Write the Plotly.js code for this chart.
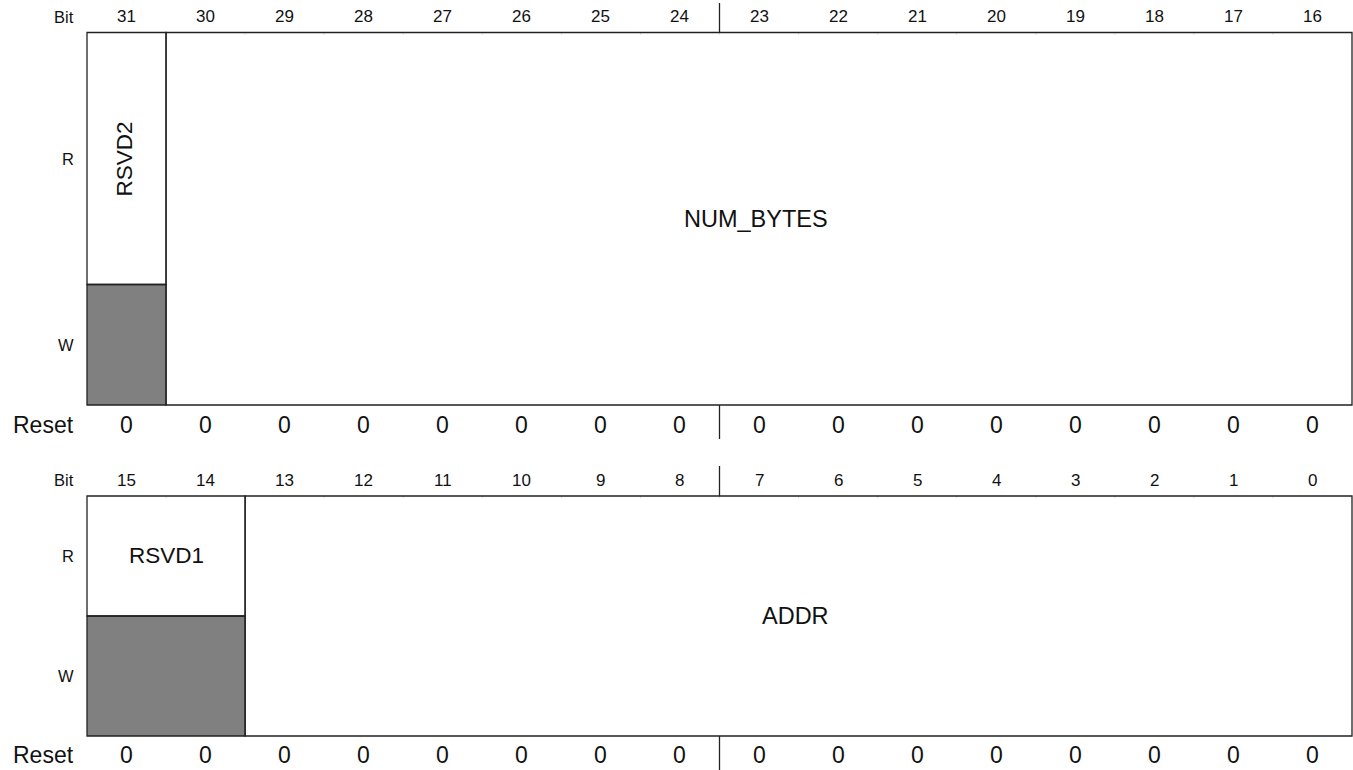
<!DOCTYPE html>
<html>
<head>
<meta charset="utf-8">
<script src="https://cdn.plot.ly/plotly-3.0.1.min.js"></script>
<style>
  html, body { margin: 0; padding: 0; background: #fff; }
  #chart { width: 1353px; height: 770px; }
</style>
</head>
<body>
<div id="chart"></div>
<script>
// ---- Data ----
const bitsHigh = [31, 30, 29, 28, 27, 26, 25, 24, 23, 22, 21, 20, 19, 18, 17, 16];
const bitsLow = [15, 14, 13, 12, 11, 10, 9, 8, 7, 6, 5, 4, 3, 2, 1, 0];
const resetHigh = [0, 0, 0, 0, 0, 0, 0, 0, 0, 0, 0, 0, 0, 0, 0, 0];
const resetLow = [0, 0, 0, 0, 0, 0, 0, 0, 0, 0, 0, 0, 0, 0, 0, 0];

const fieldNamesHigh = ['RSVD2', 'NUM_BYTES'];
const fieldMsbHigh = [31, 30];
const fieldLsbHigh = [31, 16];
const fieldReservedHigh = [true, false];

const fieldNamesLow = ['RSVD1', 'ADDR'];
const fieldMsbLow = [15, 13];
const fieldLsbLow = [14, 0];
const fieldReservedLow = [true, false];

const rowLabels = ['Bit', 'R', 'W', 'Reset'];

// ---- Layout geometry (y in pixel-like units, reversed axis) ----
const W = 1353, H = 770;
const cellPx = 1265 / 16;
const xLeftPx = 87;
const x0 = -xLeftPx / cellPx;
const x1 = x0 + W / cellPx;
const labelX = (76 - xLeftPx) / cellPx;

const FONT = 'Liberation Sans, Arial, Helvetica, sans-serif';
const LINE = '#222';
const GRAY = '#808080';

const registers = [
  { bits: bitsHigh, reset: resetHigh, names: fieldNamesHigh, msb: fieldMsbHigh, lsb: fieldLsbHigh, reserved: fieldReservedHigh,
    bitY: 16.5, top: 32.5, split: 284.5, bottom: 405, resetY: 424.5, divTop: [3, 32.5], divBot: [405, 439] },
  { bits: bitsLow, reset: resetLow, names: fieldNamesLow, msb: fieldMsbLow, lsb: fieldLsbLow, reserved: fieldReservedLow,
    bitY: 480, top: 496, split: 616, bottom: 736, resetY: 755, divTop: [466, 496], divBot: [736, 770] }
];

const shapes = [];
const annotations = [];

function ann(x, y, text, size, opts) {
  annotations.push(Object.assign({
    x: x, y: y, xref: 'x', yref: 'y', text: text, showarrow: false,
    xanchor: 'center', yanchor: 'middle',
    font: { family: FONT, size: size, color: '#111' }
  }, opts || {}));
}

registers.forEach(function (reg) {
  const hiBit = reg.bits[0];
  const idx = function (bit) { return hiBit - bit; };

  // Bit numbers and reset values
  reg.bits.forEach(function (b, i) {
    ann(i + 0.5, reg.bitY, String(b), 17);
    ann(i + 0.5, reg.resetY, String(reg.reset[i]), 23);
  });

  // Row labels
  ann(labelX, reg.bitY, rowLabels[0], 16.5, { xanchor: 'right' });
  ann(labelX, (reg.top + reg.split) / 2, rowLabels[1], 16.5, { xanchor: 'right' });
  ann(labelX, (reg.split + reg.bottom) / 2, rowLabels[2], 16.5, { xanchor: 'right' });
  ann(labelX, reg.resetY, rowLabels[3], 23, { xanchor: 'right' });

  // faint bit ticks along top border
  for (let k = 1; k < reg.bits.length; k++) {
    shapes.push({ type: 'line', xref: 'x', yref: 'y', x0: k, x1: k, y0: reg.top, y1: reg.top + 2,
      line: { color: '#d8d8d8', width: 1 } });
  }

  // Fields
  reg.names.forEach(function (name, f) {
    const a = idx(reg.msb[f]);
    const b = idx(reg.lsb[f]) + 1;
    if (reg.reserved[f]) {
      shapes.push({ type: 'rect', xref: 'x', yref: 'y', x0: a, x1: b, y0: reg.split, y1: reg.bottom,
        fillcolor: GRAY, line: { color: LINE, width: 1.3 } });
      shapes.push({ type: 'rect', xref: 'x', yref: 'y', x0: a, x1: b, y0: reg.top, y1: reg.split,
        fillcolor: 'rgba(0,0,0,0)', line: { color: LINE, width: 1.3 } });
      const cy = (reg.top + reg.split) / 2;
      if (b - a === 1) {
        ann((a + b) / 2 - 0.02, cy, name, 22.5, { textangle: -90 });
      } else {
        ann((a + b) / 2, cy - 1, name, 22.5);
      }
    } else {
      shapes.push({ type: 'rect', xref: 'x', yref: 'y', x0: a, x1: b, y0: reg.top, y1: reg.bottom,
        fillcolor: 'rgba(0,0,0,0)', line: { color: LINE, width: 1.3 } });
      ann((a + b) / 2 - 0.04, (reg.top + reg.bottom) / 2, name, 23.5);
    }
  });

  // Half-word divider marks
  [reg.divTop, reg.divBot].forEach(function (d) {
    shapes.push({ type: 'line', xref: 'x', yref: 'y', x0: 8, x1: 8, y0: d[0], y1: d[1],
      line: { color: LINE, width: 1.3 } });
  });
});

const layout = {
  width: W, height: H,
  margin: { l: 0, r: 0, t: 0, b: 0, pad: 0 },
  paper_bgcolor: '#fff', plot_bgcolor: '#fff',
  showlegend: false,
  xaxis: { range: [x0, x1], visible: false, fixedrange: true },
  yaxis: { range: [H, 0], visible: false, fixedrange: true },
  shapes: shapes,
  annotations: annotations
};

Plotly.newPlot('chart', [{ x: [], y: [], type: 'scatter', mode: 'markers', hoverinfo: 'skip' }], layout,
  { displayModeBar: false, staticPlot: true });
</script>
</body>
</html>
